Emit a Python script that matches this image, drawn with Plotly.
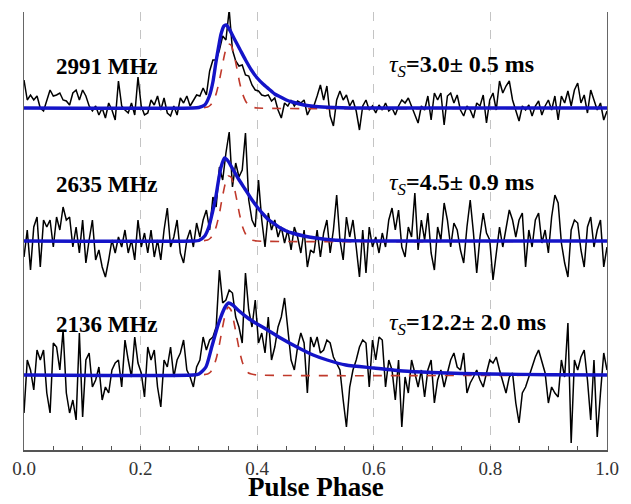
import numpy as np
import plotly.graph_objects as go

# ---------------- data ----------------
n_bins = 180
phase = np.linspace(0.0, 1.0, n_bins)

freq_labels = ["2991 MHz", "2635 MHz", "2136 MHz"]
tau_labels = ["3.0\u00b1 0.5 ms", "4.5\u00b1 0.9 ms", "12.2\u00b1 2.0 ms"]

# observed profiles (relative intensity, arbitrary units)
obs_2991 = [28, 8, 13, 8, 12, 0, -3, 8, 18, 12,
            13, 15, 8, 7, 3, 15, 18, 8, 18, 12,
            2, -3, 2, -7, 0, -10, 5, -2, -12, 27,
            2, -2, -5, 5, -7, 31, 2, -7, -5, 8,
            3, 12, -2, 10, -5, -8, 2, -7, 10, 5,
            12, 2, 8, 13, 12, 20, 13, 37, 48, 48,
            58, 72, 68, 98, 58, 47, 42, 43, 33, 32,
            23, 18, 17, 13, 12, 13, 7, 10, -2, -10,
            5, 2, 8, 2, 7, 5, 8, -7, 0,
            2, 12, 23, 8, 22, -8, -18, 8, 17, 8,
            13, 2, 8, -3, -22, 2, 8, -2, 2, -5,
            3, -2, 5, -3, 0, -7, 2, 8, 5, 10,
            2, -7, -15, 2, -2, 12, -12, 15, 8, 15,
            -17, 12, 15, 5, 13, -2, -8, 2, -2, -10,
            5, 2, 13, -15, 8, 15, -2, 27, 15, 22,
            27, 8, -2, -13, 2, -2, 3, -8, 2, 7,
            -7, 2, 8, -2, 12, -12, 12, 5, 17, 2,
            18, 25, 5, 13, -5, 18, 8, -2, 5, -12,
            -3]

obs_2635 = [-16, 11, -29, 14, 24, -26, 21, 14, 21, -6,
            24, 11, 34, 21, 24, -6, 14, -12, 21, -22,
            1, 21, -19, -9, -26, -36, -19, 1, -12, 4,
            -6, 11, -12, 1, -19, 21, -6, 8, -12, 11,
            -16, 1, -19, 11, 33, -6, 4, 21, -12, -22,
            1, 11, -6, 18, 4, 21, 31, 11, 44, 34,
            74, 61, 88, 109, 54, 78, 64, 71, 108, 41,
            21, 14, 61, 21, -6, 28, 11, 21, 4, 14,
            -2, 11, -9, 14, 4, -12, 11, -26, -9,
            -12, 11, -16, 8, 21, -12, 11, 46, 1, -19,
            24, 4, 21, -6, -36, 11, -32, 14, -6, 4,
            -12, 8, -6, 21, 33, 11, 31, -6, -16, 14,
            4, 48, -9, 21, 1, 28, -12, -29, 14, 1,
            38, 21, -6, 18, 11, -9, -22, 14, 41, 8,
            -32, 4, 28, 8, 1, -39, -12, 14, -6, 11,
            31, 21, 4, 21, 28, -26, 11, -6, 21, 28,
            -2, 11, -12, 24, 46, 38, -2, -22, -36, 11,
            21, 18, -9, -26, 14, 24, -6, 11, 21, -26,
            -6]

obs_2136 = [-38, 15, 5, -15, 25, 15, 25, -18, -38, 32,
            28, 5, 45, -18, -38, -25, -45, 42, -42, 15,
            22, -12, -5, 8, -25, -12, -18, 5, 12, 15,
            -12, 35, 15, -2, 38, 12, 2, -22, 28, 15,
            25, -12, -32, 15, 8, 28, -2, 15, 22, 35,
            5, -2, -12, 8, 15, 38, 25, 35, 38, 48,
            105, 72, 75, 85, 82, 58, 48, 32, 102, 65,
            48, 75, 32, 42, 22, 58, 15, 28, 48, 58,
            77, 48, 15, 5, 28, 42, 32, -18, 38,
            28, 38, 22, 25, 35, 32, 18, 12, 5, -25,
            -52, -12, 5, 15, 28, 35, 32, -12, 35, 15,
            38, 35, -12, 15, 5, -25, 15, -52, -2, -18,
            15, 2, -12, 5, -22, 5, 15, -28, -5, 5,
            -12, 2, 15, 22, 8, 5, 22, -18, -8, -2,
            5, -5, -12, 2, 15, 12, 18, 5, -8, -18,
            -2, 2, -28, -48, -18, -12, -2, 8, 18, 25,
            12, 2, -28, -12, -18, -22, 15, -2, 52, -68,
            15, 5, 18, 25, -5, -45, 15, -62, -18, 22,
            5]

# scattered-profile fits (blue)
fit_phase_2991 = [0, 0.29, 0.30, 0.31, 0.318, 0.324, 0.329, 0.334, 0.338, 0.343, 0.347,
                  0.352, 0.36, 0.37, 0.38, 0.39, 0.40, 0.41, 0.42, 0.43, 0.44, 0.45,
                  0.46, 0.48, 0.50, 0.53, 0.56, 0.60, 1.0]
fit_2991 = [0, 0, 0.5, 3, 12, 26, 45, 62, 74, 82, 83,
            79, 70, 59, 48, 38, 30, 24, 19, 14, 11, 8,
            6, 3, 1.5, 0.5, 0, 0, 0]

fit_phase_2635 = [0, 0.29, 0.30, 0.31, 0.317, 0.323, 0.329, 0.334, 0.338, 0.344, 0.35,
                  0.356, 0.367, 0.379, 0.39, 0.40, 0.41, 0.42, 0.43, 0.44, 0.45,
                  0.46, 0.48, 0.50, 0.53, 0.56, 0.60, 1.0]
fit_2635 = [0, 0, 0.5, 5, 14, 28, 44, 62, 74, 83, 80,
            74, 63, 52, 42, 34, 27, 21, 17, 13, 10,
            8, 5, 3, 1, 0.3, 0, 0]

fit_phase_2136 = [0, 0.29, 0.30, 0.312, 0.322, 0.334, 0.345, 0.351, 0.358, 0.367, 0.384,
                  0.40, 0.412, 0.44, 0.468, 0.496, 0.52, 0.552, 0.60, 0.65, 0.70,
                  0.75, 0.80, 0.90, 1.0]
fit_2136 = [0, 0, 1, 8, 28, 52, 68, 72, 70, 65, 57,
            51, 47, 37, 28, 20, 15, 10, 7, 4, 2.5,
            1.5, 1, 0.3, 0]

# intrinsic gaussian components (red dashed)
gauss_phase = [0, 0.30, 0.315, 0.32, 0.325, 0.33, 0.335, 0.34, 0.345, 0.35,
               0.355, 0.36, 0.365, 0.37, 0.375, 0.38, 0.385, 0.39, 0.40, 1.0]
gauss_2991 = [0, 0, 1, 3, 7, 15, 27, 42, 56, 64, 63, 54, 40, 25, 14, 7, 3, 1, 0, 0]
gauss_2635 = [0, 0, 1, 3, 7, 15, 27, 43, 57, 65, 64, 55, 41, 26, 14, 7, 3, 1, 0, 0]
gauss_2136 = [0, 0, 1, 3, 8, 17, 30, 46, 60, 68, 65, 53, 38, 23, 12, 6, 2, 1, 0, 0]

# ---------------- layout constants ----------------
offsets = [342, 209, 75]
label_y = [384, 266, 126]
Y_MAX = 438
SERIF = "Liberation Serif, Times New Roman, serif"

obs_list = [obs_2991, obs_2635, obs_2136]
fit_list = [(fit_phase_2991, fit_2991), (fit_phase_2635, fit_2635), (fit_phase_2136, fit_2136)]
gauss_list = [gauss_2991, gauss_2635, gauss_2136]

fig = go.Figure()
for k in range(3):
    off = offsets[k]
    fig.add_trace(go.Scatter(x=phase, y=np.array(obs_list[k]) + off, mode="lines",
                             line=dict(color="black", width=1.5), hoverinfo="skip"))
    fig.add_trace(go.Scatter(x=gauss_phase, y=np.array(gauss_list[k]) + off, mode="lines",
                             line=dict(color="#c0392b", width=1.6, dash="dash", shape="spline",
                                       smoothing=0.6), hoverinfo="skip"))
    fx, fy = fit_list[k]
    fig.add_trace(go.Scatter(x=fx, y=np.array(fy) + off, mode="lines",
                             line=dict(color="#1414c8", width=3.4, shape="spline", smoothing=0.6),
                             hoverinfo="skip"))

annotations = []
for k in range(3):
    annotations.append(dict(x=0.052, y=label_y[k], xref="paper", yref="y",
                            text="<b>%s</b>" % freq_labels[k], showarrow=False,
                            xanchor="left", yanchor="middle",
                            font=dict(family=SERIF, size=23, color="black")))
    annotations.append(dict(x=0.623, y=label_y[k], xref="paper", yref="y",
                            text="<i>\u03c4</i><sub><i>S</i></sub><b>=%s</b>" % tau_labels[k],
                            showarrow=False, xanchor="left", yanchor="middle",
                            font=dict(family=SERIF, size=24, color="black")))
annotations.append(dict(x=0.5, y=-54 / Y_MAX, xref="paper", yref="paper",
                        text="<b>Pulse Phase</b>", showarrow=False,
                        xanchor="center", yanchor="bottom",
                        font=dict(family=SERIF, size=27, color="black")))

fig.update_layout(
    width=631, height=504,
    margin=dict(l=21, r=14, t=12, b=54),
    paper_bgcolor="white", plot_bgcolor="white",
    showlegend=False,
    annotations=annotations,
    xaxis=dict(range=[0, 1], tickvals=[0, 0.2, 0.4, 0.6, 0.8, 1.0],
               ticktext=["0.0", "0.2", "0.4", "0.6", "0.8", "1.0"],
               showgrid=True, gridcolor="#c4c4c4", griddash="dash", gridwidth=1,
               zeroline=False, showline=True, linecolor="#555555", linewidth=1.5,
               ticks="inside", ticklen=4, tickcolor="#555555", tickwidth=1,
               minor=dict(dtick=0.05, ticks="inside", ticklen=4, tickcolor="#555555",
                          showgrid=False),
               tickfont=dict(family=SERIF, size=19, color="#333333")),
    yaxis=dict(range=[0, Y_MAX], showgrid=False, zeroline=False, showticklabels=False,
               showline=True, mirror=True, linecolor="#666666", linewidth=1, ticks=""),
)

fig.write_html("out.html")
